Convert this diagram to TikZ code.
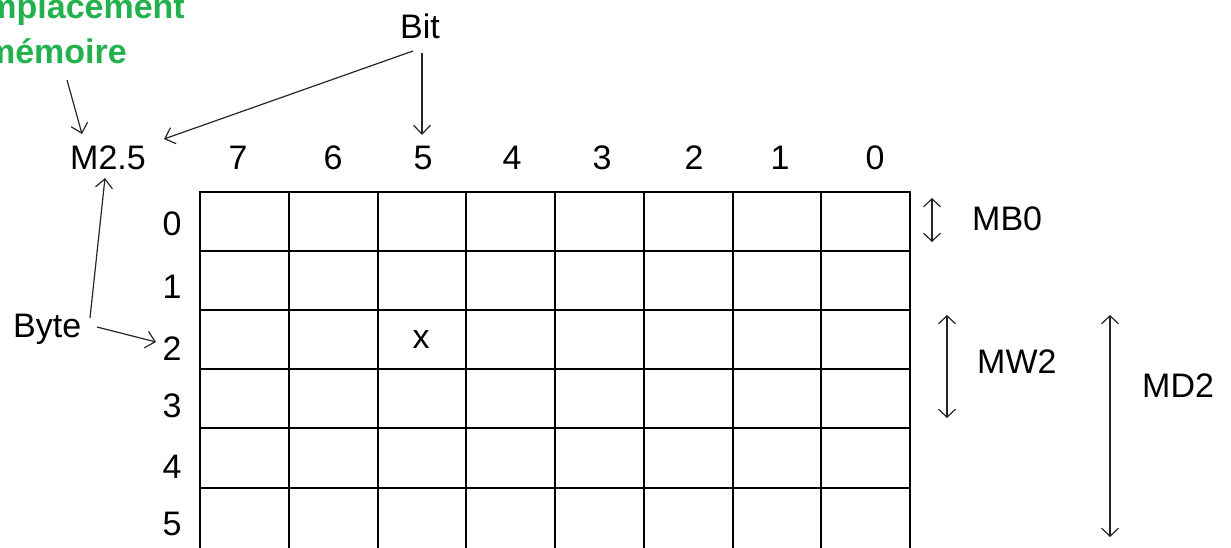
\documentclass[tikz,border=0pt]{standalone}
\usepackage{fontspec}
\setmainfont{Liberation Sans}
\usetikzlibrary{arrows.meta}
\definecolor{grn}{RGB}{34,177,76}
\begin{document}
\begin{tikzpicture}[x=1pt,y=-1pt,
  lbl/.style={font=\fontsize{34}{40}\selectfont, inner sep=0pt, anchor=base},
  grnlbl/.style={font=\fontsize{34}{40}\selectfont\bfseries, text=grn, inner sep=0pt, anchor=base east},
  arr/.style={draw=black!85, line width=1.2pt, -{Straight Barb[length=9pt,width=17pt]}},
  dbl/.style={draw=black!85, line width=1.2pt, {Straight Barb[length=8pt,width=17pt]}-{Straight Barb[length=8pt,width=17pt]}},
  gridline/.style={line width=2pt, line cap=rect}]
\useasboundingbox (0,0) rectangle (1231,547);
% grid
\foreach \i in {0,...,8} \draw[gridline] ({200+88.75*\i},192) -- ({200+88.75*\i},548);
\foreach \j in {0,...,5} \draw[gridline] (200,{192+59.1*\j}) -- (910,{192+59.1*\j});
% labels
\node[lbl] (m25) at (108,169) {M2.5};
\foreach \x/\t in {238/7,333/6,423/5,512/4,602/3,694/2,780/1,875/0}
  \node[lbl] (c\t) at (\x,169) {\t};
\foreach \y/\t in {235/0,298/1,360/2,417/3,478/4,535/5}
  \node[lbl] (r\t) at (172,\y) {\t};
\node[lbl] (bit) at (420,38) {Bit};
\node[lbl,anchor=base west] (byte) at (13,337) {Byte};
\node[lbl] (xmark) at (421,348) {x};
\node[lbl,anchor=base west] (mb0) at (972,230) {MB0};
\node[lbl,anchor=base west] (mw2) at (977,373) {MW2};
\node[lbl,anchor=base west] (md2) at (1142,397) {MD2};
\node[grnlbl] (empl) at (185,18) {Emplacement};
\node[grnlbl] (memo) at (127,63) {mémoire};
% arrow end points
\coordinate (emplS) at (67,80);   \coordinate (m25T) at (82,134);
\coordinate (bitL) at (413,51);   \coordinate (m25R) at (164,139);
\coordinate (bitB) at (422,53);   \coordinate (c5T) at (422,135);
\coordinate (byteT) at (90,318);  \coordinate (m25B) at (105,178);
\coordinate (byteR) at (97,327);  \coordinate (r2L) at (156,342);
\coordinate (mb0T) at (932,198);  \coordinate (mb0B) at (932,242);
\coordinate (mw2T) at (947,315);  \coordinate (mw2B) at (947,418);
\coordinate (md2T) at (1110,315); \coordinate (md2B) at (1110,537);
% arrows
\draw[arr] (emplS) -- (m25T);
\draw[arr] (bitL) -- (m25R);
\draw[arr] (bitB) -- (c5T);
\draw[arr] (byteT) -- (m25B);
\draw[arr] (byteR) -- (r2L);
\draw[dbl] (mb0T) -- (mb0B);
\draw[dbl] (mw2T) -- (mw2B);
\draw[dbl] (md2T) -- (md2B);
\end{tikzpicture}
\end{document}
